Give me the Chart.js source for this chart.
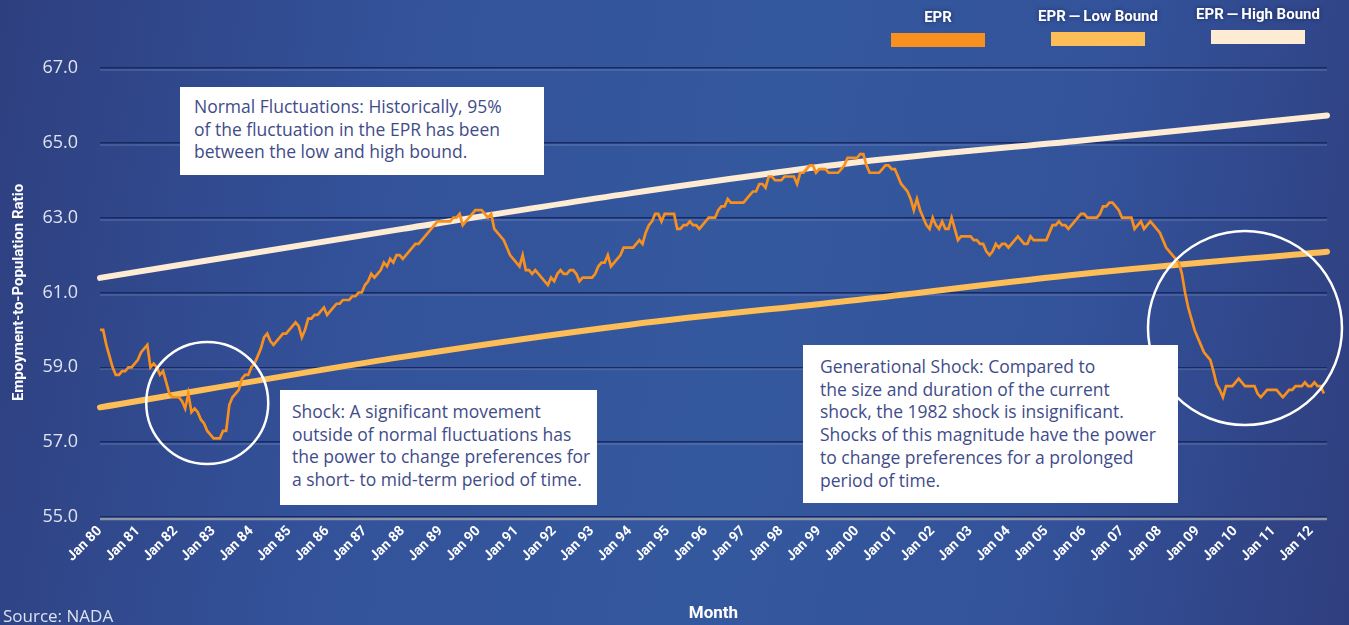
<!DOCTYPE html>
<html>
<head>
<meta charset="utf-8">
<script src="https://cdn.jsdelivr.net/npm/chart.js@4.4.1/dist/chart.umd.min.js"></script>
<style>
  body { margin: 0; }
  #wrap {
    position: relative; width: 1349px; height: 625px; overflow: hidden;
    background: linear-gradient(100deg, #2e3f7f 0%, #33529a 28%, #34589e 55%, #33529a 78%, #2f3e7e 100%);
  }
  #c { position: absolute; left: 0; top: 0; }
  .note {
    position: absolute; background: #fff; color: #3f4c8a; box-sizing: border-box;
    font: 17.5px/22.7px "Open Sans", sans-serif; white-space: nowrap;
  }
  .leg { position: absolute; text-align: center; color: #fff;
    font: bold 15px "Roboto", sans-serif; text-shadow: 0 0 4px rgba(10,20,60,0.6); }
  .source { position: absolute; left: 3px; top: 604px; color: #dde2ef;
    font: 17px "Open Sans", sans-serif; }
</style>
</head>
<body>
<div id="wrap">
  <canvas id="c" width="1349" height="625"></canvas>
  <div id="legend"></div>
  <div class="note" style="left:180px;top:87px;width:364px;height:88px;padding:8px 0 0 14px;">
    Normal Fluctuations: Historically, 95%<br>of the fluctuation in the EPR has been<br>between the low and high bound.
  </div>
  <div class="note" style="left:280px;top:390px;width:317px;height:115px;padding:10px 0 0 12px;">
    Shock: A significant movement<br>outside of normal fluctuations has<br>the power to change preferences for<br>a short- to mid-term period of time.
  </div>
  <div class="note" style="left:803px;top:345px;width:375px;height:158px;padding:10px 0 0 17px;">
    Generational Shock: Compared to<br>the size and duration of the current<br>shock, the 1982 shock is insignificant.<br>Shocks of this magnitude have the power<br>to change preferences for a prolonged<br>period of time.
  </div>
  <div class="source">Source: NADA</div>
</div>
<script>
// months on the x axis: Jan 80 .. Jun 12
const years = [];
for (let y = 1980; y <= 2012; y++) years.push(y);
const monthNames = ['Jan','Feb','Mar','Apr','May','Jun','Jul','Aug','Sep','Oct','Nov','Dec'];
const months = [];
years.forEach(y => monthNames.forEach((m, i) => {
  if (y < 2012 || i < 6) months.push(m + ' ' + String(y).slice(2));
}));

// EPR, monthly
const epr1980s = [
  60.0, 60.0, 59.6, 59.3, 59.0, 58.8, 58.8, 58.9, 58.9, 59.0, 59.0, 59.1,
  59.2, 59.4, 59.5, 59.6, 59.0, 59.1, 59.0, 58.8, 58.9, 58.6, 58.3, 58.2,
  58.2, 58.2, 58.1, 57.9, 58.3, 57.8, 57.9, 57.8, 57.6, 57.5, 57.3, 57.2,
  57.1, 57.1, 57.1, 57.3, 57.3, 58.0, 58.2, 58.3, 58.4, 58.7, 58.8, 58.8,
  59.0, 59.1, 59.3, 59.5, 59.8, 59.9, 59.7, 59.6, 59.7, 59.8, 59.9, 59.9,
  60.0, 60.1, 60.2, 60.1, 59.8, 60.0, 60.3, 60.3, 60.4, 60.4, 60.5, 60.6,
  60.4, 60.5, 60.6, 60.7, 60.7, 60.8, 60.8, 60.8, 60.9, 60.9, 61.0, 61.0,
  61.2, 61.3, 61.5, 61.4, 61.5, 61.6, 61.8, 61.7, 61.9, 61.8, 62.0, 62.0,
  61.9, 62.0, 62.1, 62.2, 62.3, 62.3, 62.4, 62.5, 62.6, 62.7, 62.8, 62.9,
  62.9, 62.9, 62.9, 62.9, 63.0, 63.0, 63.1, 62.8, 62.9, 63.0, 63.1, 63.2
];
const epr1990s = [
  63.2, 63.2, 63.1, 63.0, 63.1, 62.7, 62.6, 62.5, 62.4, 62.2, 62.0, 61.9,
  61.8, 61.7, 62.0, 61.6, 61.6, 61.5, 61.6, 61.5, 61.4, 61.3, 61.2, 61.4,
  61.3, 61.5, 61.6, 61.5, 61.5, 61.6, 61.6, 61.5, 61.3, 61.4, 61.4, 61.4,
  61.4, 61.5, 61.7, 61.8, 61.8, 62.0, 61.7, 61.8, 61.9, 62.0, 62.2, 62.2,
  62.2, 62.2, 62.3, 62.4, 62.3, 62.6, 62.8, 62.9, 63.1, 63.1, 62.9, 63.1,
  63.1, 63.1, 63.1, 62.7, 62.7, 62.8, 62.8, 62.9, 62.8, 62.8, 62.7, 62.8,
  62.9, 63.0, 63.0, 63.0, 63.2, 63.3, 63.3, 63.5, 63.4, 63.4, 63.4, 63.4,
  63.4, 63.5, 63.6, 63.7, 63.7, 63.9, 63.9, 63.8, 64.1, 64.1, 64.0, 64.0,
  64.0, 64.1, 64.1, 64.1, 64.1, 63.9, 64.2, 64.2, 64.3, 64.4, 64.4, 64.2,
  64.3, 64.3, 64.3, 64.2, 64.2, 64.2, 64.2, 64.3, 64.4, 64.6, 64.6, 64.6
];
const epr2000s = [
  64.6, 64.7, 64.7, 64.4, 64.2, 64.2, 64.2, 64.2, 64.3, 64.4, 64.4, 64.3,
  64.3, 64.1, 63.9, 63.8, 63.7, 63.5, 63.2, 63.5, 63.2, 63.0, 62.8, 62.7,
  63.0, 62.8, 62.7, 62.9, 62.7, 62.7, 63.0, 62.7, 62.4, 62.5, 62.5, 62.5,
  62.5, 62.4, 62.4, 62.3, 62.3, 62.1, 62.0, 62.1, 62.3, 62.2, 62.3, 62.3,
  62.2, 62.3, 62.4, 62.5, 62.4, 62.3, 62.3, 62.5, 62.4, 62.4, 62.4, 62.4,
  62.4, 62.6, 62.8, 62.8, 62.9, 62.8, 62.8, 62.7, 62.8, 62.9, 63.0, 63.1,
  63.1, 63.0, 63.0, 63.0, 63.0, 63.1, 63.3, 63.3, 63.4, 63.4, 63.3, 63.2,
  63.0, 63.0, 63.0, 63.0, 62.7, 62.8, 62.9, 62.7, 62.8, 62.9, 62.8, 62.7,
  62.6, 62.4, 62.2, 62.1, 62.0, 61.9, 61.8, 61.5, 61.0, 60.6, 60.3, 60.0,
  59.8, 59.6, 59.4, 59.3, 59.2, 58.9, 58.55, 58.4, 58.2, 58.5, 58.5, 58.5
];
const epr2010s = [
  58.6, 58.7, 58.6, 58.5, 58.5, 58.5, 58.5, 58.3, 58.2, 58.3, 58.4, 58.4,
  58.4, 58.4, 58.3, 58.2, 58.3, 58.4, 58.4, 58.5, 58.5, 58.5, 58.6, 58.5,
  58.5, 58.6, 58.5, 58.5, 58.3
];
const epr = [...epr1980s, ...epr1990s, ...epr2000s, ...epr2010s];

// bound curves, read at a few months
const boundMonths = ['Jan 80', 'Jan 88', 'Jan 94', 'Jan 00', 'Jan 06', 'Jun 12'];
const lowBound  = [57.93, 59.28, 60.14, 60.80, 61.50, 62.09];
const highBound = [61.39, 62.70, 63.65, 64.48, 65.07, 65.73];

const yTicks = [55, 57, 59, 61, 63, 65, 67];

const colors = { epr: '#f7901e', low: '#fdbe57', high: '#fdebd3' };

// legend (text above a colour bar)
const legendItems = [
  { text: 'EPR', color: colors.epr, cx: 938, ty: 8, by: 33 },
  { text: 'EPR\u2009\u2014\u2009Low Bound', color: colors.low, cx: 1098, ty: 7, by: 32 },
  { text: 'EPR\u2009\u2014\u2009High Bound', color: colors.high, cx: 1258, ty: 5, by: 30 }
];
const legendEl = document.getElementById('legend');
legendItems.forEach(it => {
  const t = document.createElement('div');
  t.className = 'leg';
  t.style.left = (it.cx - 100) + 'px';
  t.style.top = it.ty + 'px';
  t.style.width = '200px';
  t.textContent = it.text;
  legendEl.appendChild(t);
  const b = document.createElement('div');
  b.style.cssText = 'position:absolute;width:94px;height:14px;left:' + (it.cx - 47) + 'px;top:' + it.by + 'px;background:' + it.color;
  legendEl.appendChild(b);
});

// circles around the two shocks (centre in data units, radius in px)
const shockCircles = [
  { month: 'Nov 82', value: 58.05, r: 61 },
  { month: 'Apr 10', value: 60.05, r: 97 }
];

const gridHighlight = {
  id: 'gridHighlight',
  beforeDatasetsDraw(chart) {
    const { ctx, chartArea, scales: { y } } = chart;
    ctx.save();
    yTicks.forEach(v => {
      const py = Math.round(y.getPixelForValue(v)) + 2;
      ctx.beginPath();
      ctx.moveTo(chartArea.left, py);
      ctx.lineTo(chartArea.right, py);
      ctx.lineWidth = v === 55 ? 2.5 : 1;
      ctx.strokeStyle = v === 55 ? '#8d94aa' : 'rgba(150,165,210,0.45)';
      ctx.stroke();
    });
    ctx.restore();
  }
};

const circles = {
  id: 'circles',
  afterDraw(chart) {
    const { ctx, scales: { x, y } } = chart;
    ctx.save();
    ctx.strokeStyle = '#ffffff';
    ctx.lineWidth = 2.5;
    shockCircles.forEach(c => {
      const cx = x.getPixelForValue(months.indexOf(c.month));
      const cy = y.getPixelForValue(c.value);
      ctx.beginPath();
      ctx.arc(cx, cy, c.r, 0, Math.PI * 2);
      ctx.stroke();
    });
    ctx.restore();
  }
};

new Chart(document.getElementById('c'), {
  type: 'line',
  data: {
    labels: months,
    datasets: [
      {
        label: 'EPR',
        data: epr,
        borderColor: colors.epr,
        borderWidth: 2.7,
        pointRadius: 0,
        tension: 0,
        order: 0
      },
      {
        label: 'EPR — Low Bound',
        data: boundMonths.map((m, i) => ({ x: m, y: lowBound[i] })),
        borderColor: colors.low,
        borderWidth: 6,
        borderCapStyle: 'round',
        cubicInterpolationMode: 'monotone',
        pointRadius: 0,
        order: 1
      },
      {
        label: 'EPR — High Bound',
        data: boundMonths.map((m, i) => ({ x: m, y: highBound[i] })),
        borderColor: colors.high,
        borderWidth: 6,
        borderCapStyle: 'round',
        cubicInterpolationMode: 'monotone',
        pointRadius: 0,
        order: 2
      }
    ]
  },
  options: {
    responsive: false,
    animation: false,
    events: [],
    layout: { padding: { left: 0, right: 22, top: 68, bottom: 0 } },
    plugins: { legend: { display: false }, tooltip: { enabled: false } },
    scales: {
      x: {
        grid: { display: false, drawTicks: false },
        border: { display: false },
        afterBuildTicks: scale => {
          scale.ticks = scale.ticks.filter(t => months[t.value].startsWith('Jan'));
        },
        afterFit: scale => { scale.height = 108; },
        ticks: {
          autoSkip: false,
          minRotation: 45,
          maxRotation: 45,
          padding: 6,
          color: '#ffffff',
          font: { family: 'Roboto', weight: 'bold', size: 14 }
        },
        title: {
          display: true,
          text: 'Month',
          color: '#ffffff',
          font: { family: 'Roboto', weight: 'bold', size: 17 },
          padding: { top: 0, bottom: 1 }
        }
      },
      y: {
        min: 55,
        max: 67,
        afterBuildTicks: scale => { scale.ticks = yTicks.map(v => ({ value: v })); },
        afterFit: scale => { scale.width = 100; },
        grid: { color: '#172a63', lineWidth: 1.5, drawTicks: false },
        border: { display: false },
        ticks: {
          padding: 22,
          color: '#dfe3ef',
          font: { family: 'Open Sans', size: 18 },
          callback: v => v.toFixed(1)
        },
        title: {
          display: true,
          text: 'Empoyment-to-Population Ratio',
          color: '#ffffff',
          font: { family: 'Roboto', weight: 'bold', size: 15 },
          padding: { top: 10, bottom: 0 }
        }
      }
    }
  },
  plugins: [gridHighlight, circles]
});
</script>
</body>
</html>
